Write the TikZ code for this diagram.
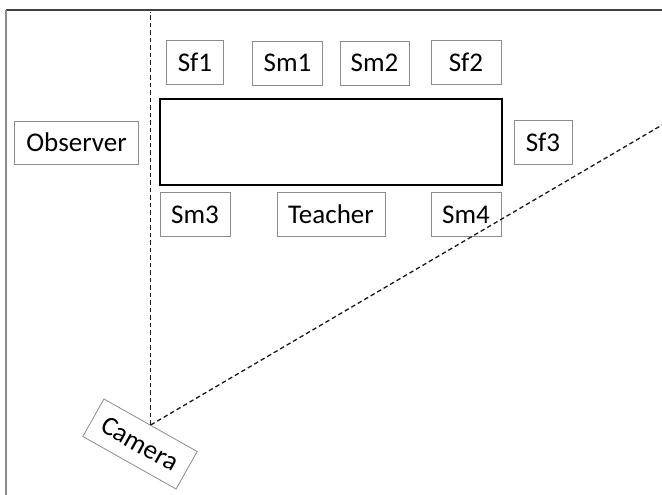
\documentclass[tikz,border=0pt]{standalone}
\usepackage{fontspec}
\setmainfont{Carlito}
\begin{document}
\begin{tikzpicture}[x=1pt,y=-1pt,
  seat/.style={draw=black!45,line width=0.8pt,fill=white,minimum height=44pt,
    inner sep=0pt,font=\fontsize{27}{30}\selectfont,text=black},
  sight/.style={draw=black!90,line width=1.3pt,dash pattern=on 4.5pt off 3pt}]
\useasboundingbox (0,0) rectangle (662,495);
% frame edges
\draw[black!75,line width=1.5pt] (6,10) -- (662,10);
\draw[black!45,line width=1.5pt] (6,10) -- (6,495);
% table
\node[draw=black,line width=2.5pt,fill=white,minimum width=342pt,minimum height=86pt,inner sep=0pt]
  (table) at (331,142) {};
% seats around the table
\node[seat,minimum width=57pt] (sf1) at (195,62) {Sf1};
\node[seat,minimum width=70pt] (sm1) at (287.5,63) {Sm1};
\node[seat,minimum width=69pt] (sm2) at (374.5,63) {Sm2};
\node[seat,minimum width=70pt] (sf2) at (466,62) {Sf2};
\node[seat,minimum width=124pt,minimum height=43pt] (obs) at (76.5,142.5) {Observer};
\node[seat,minimum width=58pt] (sf3) at (543,142.5) {Sf3};
\node[seat,minimum width=70pt] (sm3) at (195,214.7) {Sm3};
\node[seat,minimum width=108pt] (teacher) at (331,214.7) {Teacher};
\node[seat,minimum width=70pt] (sm4) at (466,214.7) {Sm4};
% camera and its field of view
\node[seat,minimum width=107pt,minimum height=43pt,rotate=-29.4] (cam) at (140,444) {Camera};
\coordinate (topedge) at (0,12);
\coordinate (farright) at (662,125);
\draw[sight] (cam.north) -- (cam.north |- topedge);
\draw[sight] (cam.north) -- (farright);
\end{tikzpicture}
\end{document}
